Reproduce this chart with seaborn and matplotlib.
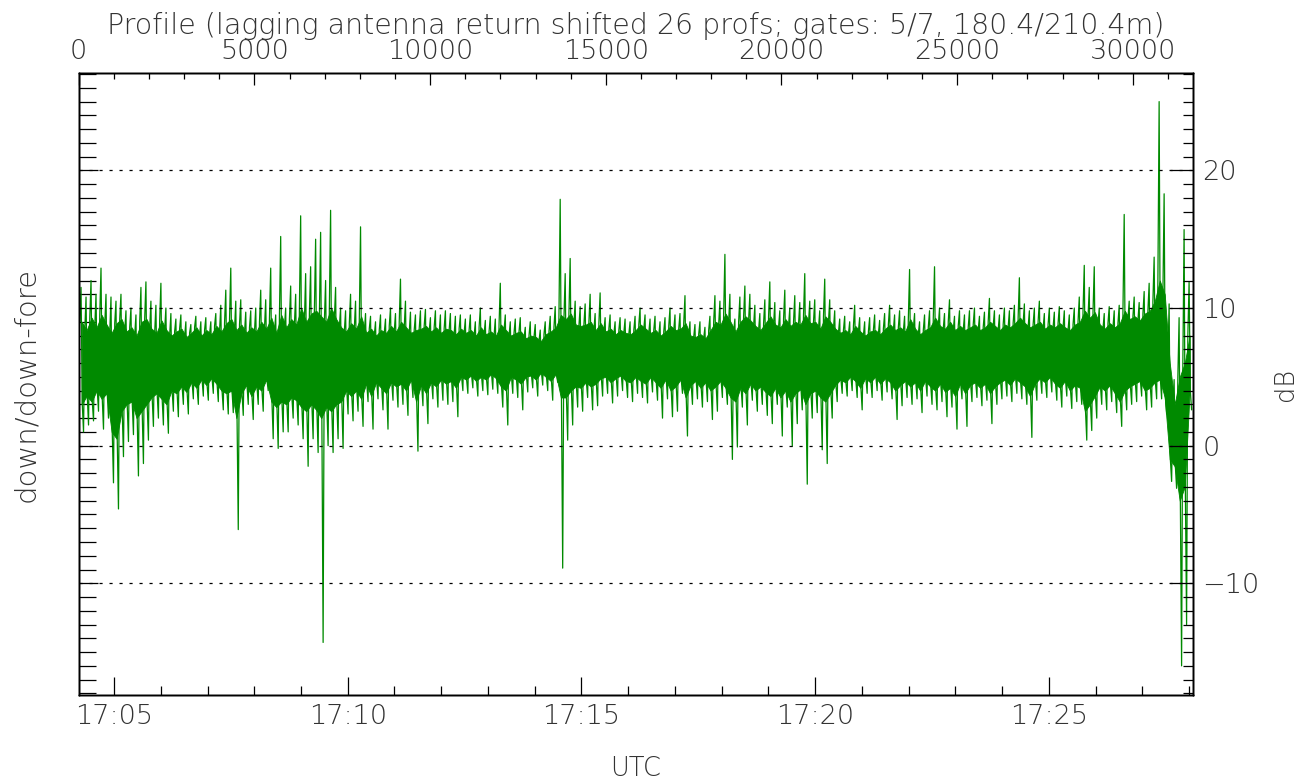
import numpy as np
import pandas as pd
import matplotlib
matplotlib.use("Agg")
import matplotlib.pyplot as plt
from matplotlib.ticker import MultipleLocator, FixedLocator
import seaborn as sns

# ---- data, per 5-px column bin (dB) ----
# spike tops
hi = [11.5, 10.8, 12.0, 11.0, 12.9, 11.0, 10.8, 10.5, 11.0, 9.8,
      10.0, 9.5, 11.5, 11.9, 10.5, 10.2, 11.8, 10.0, 9.6, 9.2,
      9.5, 9.0, 8.8, 9.4, 9.0, 9.3, 9.0, 9.6, 10.2, 11.3,
      12.9, 10.5, 10.6, 9.7, 9.8, 10.0, 11.3, 10.6, 12.9, 9.5,
      15.2, 10.0, 11.6, 11.0, 16.7, 12.5, 13.0, 15.0, 15.5, 12.0,
      17.1, 11.5, 10.0, 9.8, 11.0, 10.5, 15.9, 9.6, 9.4, 9.0,
      9.5, 9.2, 10.0, 9.6, 12.1, 10.5, 9.7, 9.5, 9.8, 9.9,
      9.3, 9.8, 9.5, 9.8, 9.6, 9.4, 9.5, 9.2, 9.5, 9.0,
      10.0, 9.1, 9.4, 9.2, 11.8, 9.5, 9.0, 9.2, 9.3, 8.6,
      9.0, 8.8, 8.4, 9.0, 9.4, 10.1, 17.9, 12.5, 13.6, 10.5,
      10.1, 10.3, 11.0, 9.6, 11.1, 9.3, 9.5, 9.0, 9.3, 9.2,
      9.0, 9.4, 10.0, 9.5, 9.2, 9.4, 9.0, 9.3, 10.0, 9.5,
      9.6, 10.9, 9.0, 8.8, 9.0, 8.6, 9.4, 10.9, 10.5, 13.9,
      11.0, 9.2, 10.8, 11.6, 11.0, 10.2, 9.6, 10.6, 11.9, 10.4,
      9.8, 11.3, 10.0, 10.9, 10.4, 12.5, 10.5, 10.6, 9.8, 12.1,
      10.6, 9.8, 9.2, 9.4, 9.0, 10.2, 9.3, 9.0, 9.3, 9.5,
      9.1, 9.6, 10.2, 9.5, 9.8, 9.4, 12.8, 9.6, 9.0, 9.5,
      9.8, 13.0, 10.0, 9.6, 10.6, 9.4, 9.8, 9.5, 9.8, 10.0,
      9.4, 9.7, 10.7, 9.8, 9.5, 10.0, 9.8, 10.2, 12.2, 10.3,
      9.8, 10.0, 10.5, 9.6, 10.0, 9.7, 10.1, 9.8, 9.5, 10.0,
      10.8, 13.1, 11.5, 13.0, 10.0, 9.6, 10.1, 9.8, 10.2, 16.8,
      10.5, 10.8, 10.4, 11.2, 11.8, 13.7, 25.0, 18.3, 10.3, 4.8,
      9.3, 15.7, 11.9]
# spike bottoms
lo = [1.0, 1.5, 1.8, 2.5, 1.2, 2.0, -2.7, -4.6, -0.8, 0.3,
      0.8, -2.2, -1.3, 0.4, 1.4, 2.0, 1.5, 0.9, 2.5, 2.1,
      3.0, 2.3, 3.4, 3.0, 3.6, 3.3, 3.8, 3.2, 2.6, 2.3,
      2.4, -6.1, 2.2, 3.0, 1.9, 3.0, 2.5, 4.0, 0.5, -0.2,
      1.0, 1.0, 2.0, 1.5, 0.5, -1.5, 0.5, -0.5, -14.3, 0.0,
      -0.5, 0.5, -0.2, 2.3, 1.8, 2.5, 1.4, 3.2, 1.2, 3.4,
      2.6, 1.2, 3.3, 2.8, 3.0, 2.2, 3.5, -0.4, 2.9, 1.6,
      3.4, 2.8, 3.3, 3.0, 3.2, 2.1, 4.0, 3.8, 4.2, 3.6,
      4.0, 3.7, 4.1, 3.8, 2.8, 1.5, 3.8, 3.5, 2.6, 3.9,
      4.2, 3.6, 4.4, 4.0, 3.3, 4.6, -8.9, 0.4, 1.5, 2.8,
      2.5, 3.5, 2.6, 2.9, 3.6, 3.8, 3.1, 3.6, 4.0, 3.5,
      3.2, 3.8, 3.5, 3.1, 3.9, 3.3, 2.0, 3.4, 2.1, 2.5,
      3.8, 0.7, 3.0, 3.4, 2.8, 3.2, 1.9, 2.5, 3.5, 3.0,
      -1.0, -0.1, 2.8, 1.5, 3.3, 2.5, 3.0, 2.2, 1.6, 3.0,
      0.7, 2.8, -0.05, 1.6, 2.6, -2.8, 2.0, 2.4, -0.3, -1.3,
      2.0, 3.2, 3.8, 3.6, 4.0, 3.5, 2.6, 3.8, 3.5, 4.0,
      3.3, 3.9, 3.4, 1.9, 2.9, 3.5, 3.0, 3.4, 2.4, 3.6,
      3.0, 2.6, 3.2, 2.1, 2.8, 1.2, 3.4, 1.4, 3.2, 3.5,
      2.9, 3.3, 1.6, 3.0, 3.4, 3.6, 3.2, 3.8, 3.4, 3.0,
      0.6, 3.3, 3.8, 3.5, 3.9, 3.3, 2.8, 3.6, 2.7, 3.2,
      3.0, 0.4, 1.1, 2.0, 3.0, 2.6, 3.2, 2.4, 1.4, 2.6,
      3.0, 3.2, 3.6, 2.6, 2.8, 3.4, 3.4, 2.3, -2.6, -3.1,
      -16.0, -13.0, 2.6]
# upper edge of the dense (solid) band
core_top = [9.0, 8.4, 9.3, 8.6, 9.5, 8.8, 8.2, 8.9, 9.2, 8.3,
            8.6, 8.0, 9.0, 9.2, 8.5, 8.2, 9.1, 8.4, 8.0, 8.3,
            8.5, 7.9, 8.2, 8.6, 8.0, 8.4, 8.1, 8.7, 8.3, 8.9,
            9.2, 8.4, 8.8, 8.2, 8.6, 8.3, 9.0, 8.5, 9.3, 8.2,
            9.5, 8.6, 9.2, 8.8, 10.0, 9.0, 9.6, 9.8, 9.4, 9.0,
            10.0, 9.2, 8.6, 8.3, 8.9, 8.5, 9.4, 8.2, 8.5, 8.0,
            8.4, 8.2, 8.7, 8.3, 9.0, 8.6, 8.2, 8.4, 8.5, 8.7,
            8.3, 8.6, 8.2, 8.5, 8.4, 8.1, 8.5, 8.2, 8.4, 8.0,
            8.6, 8.1, 8.3, 8.0, 8.8, 8.4, 8.0, 8.2, 8.3, 7.8,
            8.0, 7.9, 7.6, 8.1, 8.3, 8.6, 9.5, 9.2, 9.6, 8.8,
            8.7, 8.8, 9.0, 8.4, 8.9, 8.3, 8.5, 8.1, 8.4, 8.2,
            8.1, 8.4, 8.8, 8.5, 8.2, 8.4, 8.0, 8.3, 8.7, 8.4,
            8.5, 8.9, 8.0, 7.9, 8.1, 7.8, 8.4, 9.0, 8.8, 9.6,
            9.0, 8.3, 9.0, 9.4, 9.1, 8.7, 8.4, 8.9, 9.4, 8.8,
            8.6, 9.2, 8.7, 9.0, 8.8, 9.5, 8.9, 9.0, 8.5, 9.4,
            9.0, 8.5, 8.2, 8.4, 8.1, 8.7, 8.3, 8.0, 8.3, 8.4,
            8.1, 8.5, 8.8, 8.4, 8.6, 8.3, 9.2, 8.5, 8.1, 8.4,
            8.6, 9.3, 8.7, 8.5, 9.0, 8.4, 8.7, 8.4, 8.6, 8.8,
            8.4, 8.6, 9.0, 8.7, 8.4, 8.8, 8.6, 8.9, 9.3, 8.9,
            8.6, 8.8, 9.0, 8.5, 8.8, 8.6, 8.9, 8.6, 8.4, 8.8,
            9.0, 9.8, 9.3, 9.7, 8.8, 8.5, 8.9, 8.6, 8.9, 9.8,
            9.2, 9.4, 9.1, 9.6, 9.8, 10.5, 12.0, 11.0, 6.0, 3.0,
            5.0, 6.0, 8.0]
# lower edge of the dense (solid) band
core_bot = [3.0, 3.6, 3.2, 4.0, 3.4, 3.8, 1.0, 0.5, 2.5, 3.0,
            3.2, 2.0, 2.5, 3.0, 3.5, 3.8, 3.4, 3.0, 4.0, 3.8,
            4.3, 3.9, 4.6, 4.2, 4.8, 4.4, 4.9, 4.5, 4.0, 3.8,
            4.0, 2.0, 3.8, 4.4, 3.6, 4.3, 4.0, 4.8, 3.2, 2.8,
            3.2, 3.0, 3.5, 3.3, 2.8, 2.5, 3.0, 2.6, 2.0, 2.8,
            2.5, 3.0, 3.2, 4.0, 3.6, 4.0, 3.4, 4.5, 3.6, 4.6,
            4.2, 3.8, 4.6, 4.3, 4.5, 4.0, 4.8, 3.2, 4.4, 3.8,
            4.6, 4.3, 4.8, 4.5, 4.7, 4.2, 5.0, 4.8, 5.1, 4.7,
            5.0, 4.8, 5.2, 4.9, 4.3, 4.0, 5.0, 4.8, 4.5, 5.0,
            5.1, 4.8, 5.3, 5.0, 4.7, 5.2, 3.5, 3.5, 4.0, 4.3,
            4.2, 4.6, 4.3, 4.5, 4.9, 5.0, 4.6, 4.9, 5.1, 4.7,
            4.6, 5.0, 4.7, 4.5, 5.0, 4.6, 4.2, 4.8, 4.0, 4.3,
            4.8, 3.5, 4.4, 4.7, 4.2, 4.6, 4.0, 4.3, 4.7, 4.2,
            3.5, 3.2, 4.2, 3.8, 4.5, 4.0, 4.3, 3.9, 3.6, 4.2,
            3.5, 4.0, 3.2, 3.8, 4.1, 3.0, 3.8, 4.0, 3.5, 3.2,
            3.8, 4.4, 4.8, 4.6, 5.0, 4.7, 4.2, 4.9, 4.6, 5.0,
            4.5, 4.9, 4.6, 4.0, 4.4, 4.7, 4.3, 4.6, 4.0, 4.7,
            4.3, 4.0, 4.5, 3.9, 4.2, 3.6, 4.5, 3.8, 4.4, 4.6,
            4.2, 4.5, 3.8, 4.3, 4.6, 4.8, 4.4, 4.9, 4.6, 4.3,
            3.6, 4.5, 4.9, 4.6, 5.0, 4.5, 4.2, 4.7, 4.0, 4.4,
            4.2, 2.5, 3.0, 3.6, 4.3, 4.0, 4.4, 3.8, 3.2, 4.0,
            4.3, 4.5, 4.7, 4.0, 4.2, 4.6, 4.8, 3.5, -1.0, -1.5,
            -4.0, -3.0, 4.0]

profile_range = [0, 31702]
profile_ticks = [0, 5000, 10000, 15000, 20000, 25000, 30000]
time_range_min = [4.245, 28.078]          # minutes after 17:00
time_ticks_min = [5, 10, 15, 20, 25]
time_labels = ["17:05", "17:10", "17:15", "17:20", "17:25"]
db_range = [-18.14, 27.1]
db_ticks = [-10, 0, 10, 20]
title_top = "Profile (lagging antenna return shifted 26 profs; gates: 5/7, 180.4/210.4m)"

GREEN = "#008a00"

# ---- build the trace: per bin core-top, spike top, core-bottom, spike bottom ----
hi_a = np.asarray(hi)
lo_a = np.asarray(lo)
ct = np.minimum(np.asarray(core_top), hi_a)
cb = np.maximum(np.asarray(core_bot), lo_a)
values = np.column_stack([ct, hi_a, cb, lo_a]).ravel()
profile = np.linspace(profile_range[0] + 30, profile_range[1] - 30, len(values))
df = pd.DataFrame({"profile": profile, "db": values})
bin_profile = profile.reshape(-1, 4).mean(axis=1)

sns.set_theme(style="white")
plt.rcParams["font.family"] = ["DejaVu Sans"]
plt.rcParams["font.weight"] = "light"
plt.rcParams["axes.labelweight"] = "light"
TXT = "#333333"
FS = 19.5

fig = plt.figure(figsize=(13.08, 7.8), dpi=100)
ax = fig.add_axes([0.0602, 0.1086, 0.8516, 0.7982])
axb = ax.twiny()   # bottom time axis
ar = ax.twinx()    # right dB axis

# dense band of the trace
ax.fill_between(bin_profile, cb, ct, color=GREEN, linewidth=0.6,
                edgecolor=GREEN, zorder=2)
# individual excursions
sns.lineplot(data=df, x="profile", y="db", ax=ax, color=GREEN,
             linewidth=0.9, estimator=None, sort=False, zorder=2)

for y in db_ticks:
    ax.axhline(y, color="black", lw=0.9, ls=(0, (2.5, 5.5)), zorder=3)

# top profile axis (data axis)
ax.set_xlim(*profile_range)
ax.set_ylim(*db_range)
ax.xaxis.tick_top()
ax.xaxis.set_label_position("top")
ax.set_xticks(profile_ticks)
ax.set_xticklabels([str(t) for t in profile_ticks])
ax.xaxis.set_minor_locator(MultipleLocator(1000))
ax.set_xlabel(title_top, fontsize=20.5, color=TXT, fontweight="light", labelpad=4)
ax.yaxis.set_major_locator(FixedLocator(db_ticks))
ax.yaxis.set_minor_locator(MultipleLocator(1))
ax.set_yticklabels([])
ax.set_ylabel("down/down-fore", fontsize=21, color=TXT, fontweight="light", labelpad=24)
ax.tick_params(axis="x", which="major", direction="in", length=8.5, width=0.9,
               color="black", labelsize=FS, labelcolor=TXT, pad=6,
               top=True, bottom=False, labeltop=True, labelbottom=False)
ax.tick_params(axis="x", which="minor", direction="in", length=4.3, width=0.9,
               color="black", top=True, bottom=False)
ax.tick_params(axis="y", which="major", direction="in", length=14, width=0.9,
               color="black", left=True, right=False)
ax.tick_params(axis="y", which="minor", direction="in", length=12, width=0.9,
               color="black", left=True, right=False)

# bottom time axis
axb.set_xlim(*time_range_min)
axb.xaxis.tick_bottom()
axb.xaxis.set_label_position("bottom")
axb.set_xticks(time_ticks_min)
axb.set_xticklabels(time_labels)
axb.xaxis.set_minor_locator(MultipleLocator(1))
axb.set_xlabel("UTC", fontsize=18.5, color=TXT, fontweight="light", labelpad=20)
axb.tick_params(axis="x", which="major", direction="in", length=13, width=0.9,
                color="black", labelsize=FS, labelcolor=TXT, pad=6,
                top=False, bottom=True, labeltop=False, labelbottom=True)
axb.tick_params(axis="x", which="minor", direction="in", length=6.5, width=0.9,
                color="black", top=False, bottom=True)

# right dB axis
ar.set_ylim(*db_range)
ar.yaxis.set_major_locator(FixedLocator(db_ticks))
ar.yaxis.set_minor_locator(MultipleLocator(1))
ar.set_yticklabels([str(t).replace("-", "\u2212") for t in db_ticks])
ar.set_ylabel("dB", fontsize=18.5, color=TXT, fontweight="light", labelpad=10)
ar.tick_params(axis="y", which="major", direction="in", length=16.5, width=0.9,
               color="black", labelsize=FS, labelcolor=TXT, pad=7,
               left=False, right=True)
ar.tick_params(axis="y", which="minor", direction="in", length=7.2, width=0.9,
               color="black", left=False, right=True)

for a in (ax, axb, ar):
    for s in a.spines.values():
        s.set_color("black")
        s.set_linewidth(1.0)
    a.grid(False)

fig.savefig("out.png", dpi=100)
